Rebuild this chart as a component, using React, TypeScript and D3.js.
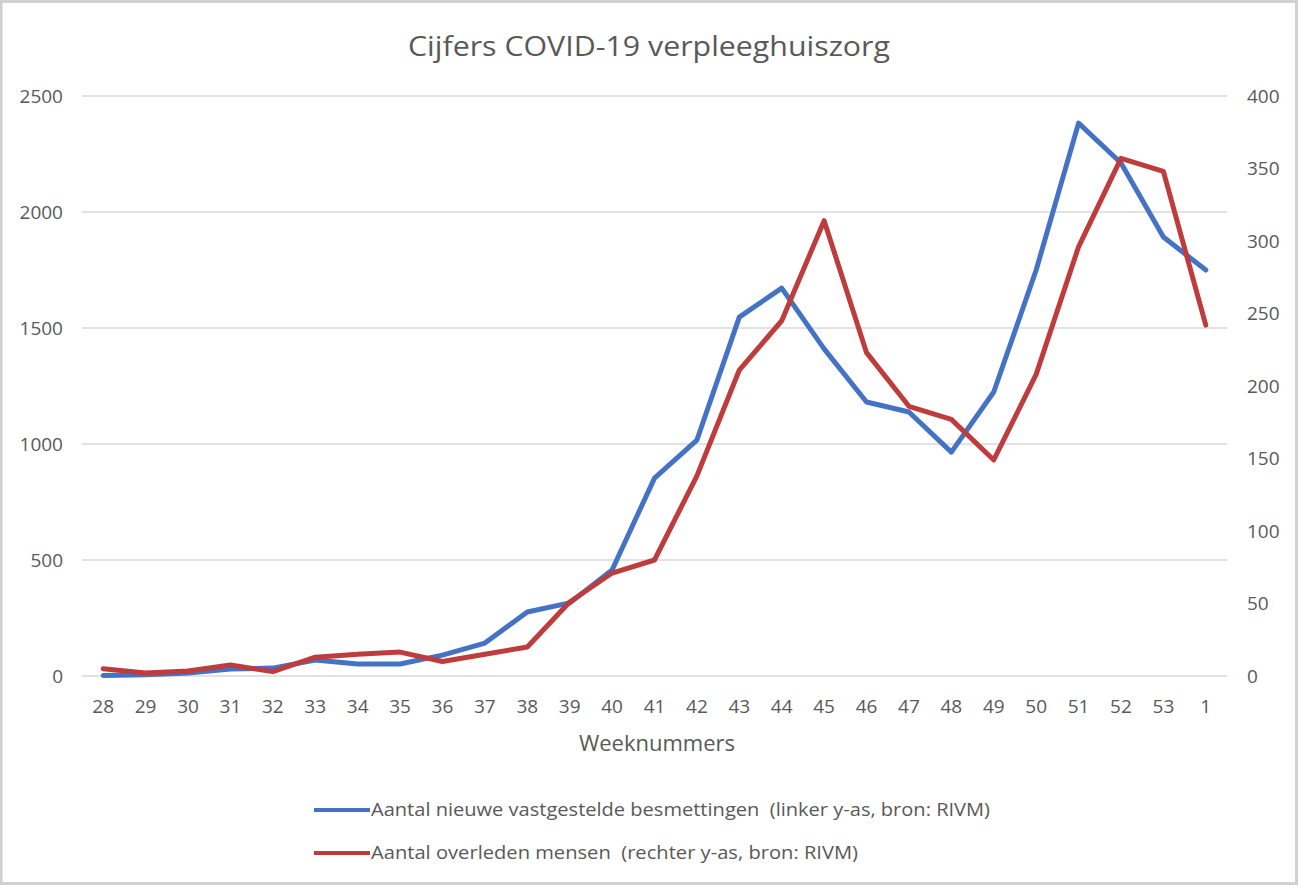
import React from 'react';
import * as d3 from 'd3';

// weeks 28..53 of 2020 and week 1 of 2021
const weeks = ['28', '29', '30', '31', '32', '33', '34', '35', '36', '37', '38', '39', '40', '41', '42', '43', '44', '45', '46', '47', '48', '49', '50', '51', '52', '53', '1'];
const infections = [2, 5, 13, 30, 34, 69, 52, 52, 90, 142, 276, 315, 457, 853, 1017, 1547, 1672, 1410, 1181, 1138, 965, 1224, 1750, 2383, 2211, 1892, 1750];
const deaths = [5, 2, 3.5, 7.6, 3, 13, 15, 16.5, 10, 15, 20, 51, 71, 80, 138, 211, 245, 314, 223, 186, 177, 149, 208, 296, 357, 348, 242];
const leftTicks = [0, 500, 1000, 1500, 2000, 2500];
const rightTicks = [0, 50, 100, 150, 200, 250, 300, 350, 400];

const W = 1299;
const H = 886;
const FONT = '"Open Sans", sans-serif';
const TXT = '#595959';
const BLUE = '#4472c4';
const RED = '#be3c3c';

export default function App() {
  const plot = { left: 82, right: 1227, top: 96, bottom: 676 };

  const x = d3.scalePoint<string>().domain(weeks).range([plot.left, plot.right]).padding(0.5);
  const yLeft = d3.scaleLinear().domain([0, 2500]).range([plot.bottom, plot.top]);
  const yRight = d3.scaleLinear().domain([0, 400]).range([plot.bottom, plot.top]);

  const lineLeft = d3.line<number>().x((d, i) => x(weeks[i]) as number).y(d => yLeft(d));
  const lineRight = d3.line<number>().x((d, i) => x(weeks[i]) as number).y(d => yRight(d));

  return (
    <svg width={W} height={H} style={{ position: 'absolute', left: 0, top: 0, background: '#fff' }}>
      {/* frame */}
      <rect x={1} y={1.5} width={W - 3.5} height={H - 4} fill="#fff" stroke="#d0d0d0" strokeWidth={3} />

      <text x={408} y={46} dy="0.35em" fontFamily={FONT} fontSize={28} fill={TXT}
        textLength={482} lengthAdjust="spacingAndGlyphs">
        Cijfers COVID-19 verpleeghuiszorg
      </text>

      {/* gridlines */}
      {leftTicks.map(t => (
        <line key={t} x1={plot.left} x2={plot.right} y1={yLeft(t)} y2={yLeft(t)} stroke="#d9d9d9" strokeWidth={1.5} />
      ))}

      {/* left axis labels */}
      {leftTicks.map(t => (
        <text key={t} x={63} y={yLeft(t)} dy="0.35em" textAnchor="end" fontFamily={FONT} fontSize={19} fill={TXT}>
          {t}
        </text>
      ))}

      {/* right axis labels */}
      {rightTicks.map(t => (
        <text key={t} x={1247} y={yRight(t)} dy="0.35em" textAnchor="start" fontFamily={FONT} fontSize={19} fill={TXT}>
          {t}
        </text>
      ))}

      {/* x axis labels */}
      {weeks.map(w => (
        <text key={w} x={x(w)} y={706} dy="0.35em" textAnchor="middle" fontFamily={FONT} fontSize={19} fill={TXT}>
          {w}
        </text>
      ))}
      <text x={657} y={743} dy="0.35em" textAnchor="middle" fontFamily={FONT} fontSize={22} fill={TXT}>
        Weeknummers
      </text>

      {/* series */}
      <path d={lineLeft(infections) || ''} fill="none" stroke={BLUE} strokeWidth={5} strokeLinejoin="round" strokeLinecap="round" />
      <path d={lineRight(deaths) || ''} fill="none" stroke={RED} strokeWidth={5} strokeLinejoin="round" strokeLinecap="round" />

      {/* legend */}
      <line x1={314} x2={370} y1={810} y2={810} stroke={BLUE} strokeWidth={4} />
      <text x={371} y={810} dy="0.35em" fontFamily={FONT} fontSize={18} fill={TXT} xmlSpace="preserve"
        textLength={619} lengthAdjust="spacingAndGlyphs">
        {'Aantal nieuwe vastgestelde besmettingen  (linker y-as, bron: RIVM)'}
      </text>
      <line x1={314} x2={370} y1={853} y2={853} stroke={RED} strokeWidth={4} />
      <text x={371} y={853} dy="0.35em" fontFamily={FONT} fontSize={18} fill={TXT} xmlSpace="preserve"
        textLength={487} lengthAdjust="spacingAndGlyphs">
        {'Aantal overleden mensen  (rechter y-as, bron: RIVM)'}
      </text>
    </svg>
  );
}
